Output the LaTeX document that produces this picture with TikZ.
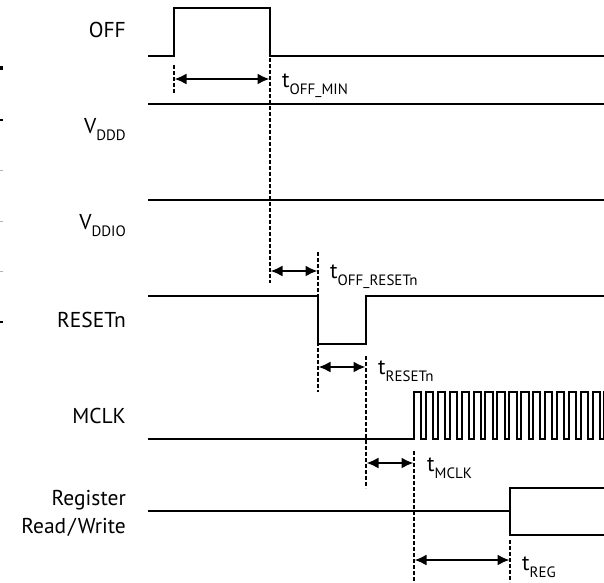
\documentclass[tikz,border=0pt]{standalone}
\usepackage{fontspec}
\setmainfont{PT Sans}
\usetikzlibrary{arrows.meta}
\begin{document}
\begin{tikzpicture}[x=1pt,y=-1pt,
  sig/.style={line width=2pt, line join=miter},
  guide/.style={line width=1.4pt, dash pattern=on 4pt off 2pt},
  meas/.style={line width=2pt, {Latex[length=12pt,width=11pt]}-{Latex[length=12pt,width=11pt]}, shorten <=0.5pt, shorten >=0.5pt},
  lbl/.style={anchor=base east, inner sep=0pt, font=\fontsize{21.5}{24}\selectfont},
  tlbl/.style={anchor=base west, inner sep=0pt, font=\fontsize{22}{24}\selectfont},
  tick/.style={line width=2pt}]
\useasboundingbox (0,0) rectangle (604,582);

% left edge ticks
\draw[line width=4pt] (0,68) -- (3,68);
\draw[tick] (0,120) -- (3,120);
\draw[gray!60, line width=1pt] (0,170) -- (3,170);
\draw[gray!60, line width=1pt] (0,221) -- (3,221);
\draw[gray!60, line width=1pt] (0,271) -- (3,271);
\draw[line width=1.5pt] (0,322) -- (3,322);

\newcommand{\tsub}[1]{\raisebox{-7pt}{\fontsize{15}{16}\selectfont #1}}

% signal labels
\node[lbl] (lOFF) at (126,37) {OFF};
\node[lbl] (lVDDD) at (126,133) {V\tsub{DDD}};
\node[lbl] (lVDDIO) at (126,229) {V\tsub{DDIO}};
\node[lbl] (lRST) at (126,327) {RESETn};
\node[lbl] (lMCLK) at (126,423) {MCLK};
\node[lbl] (lREG) at (126,505) {Register};
\node[lbl] (lRW) at (126,533) {Read\kern2pt/\kern2pt Write};

% key coordinates
\coordinate (a1) at (174,79);
\coordinate (a2) at (270,79);
\coordinate (b1) at (270,271);
\coordinate (b2) at (318,271);
\coordinate (c1) at (318,367);
\coordinate (c2) at (366,367);
\coordinate (d1) at (366,463);
\coordinate (d2) at (414,463);
\coordinate (e1) at (414,560);
\coordinate (e2) at (510,560);

% guide (dashed) lines
\draw[guide] (174,65) -- (174,93);
\draw[guide] (270,58) -- (270,283);
\draw[guide] (318,252) -- (318,392);
\draw[guide] (366,356) -- (366,488);
\draw[guide] (414,451) -- (414,582);
\draw[guide] (510,540) -- (510,582);

% signals
\draw[sig] (148,56) -- (174,56) -- (174,8) -- (270,8) -- (270,56) -- (604,56);
\draw[sig] (148,104) -- (604,104);
\draw[sig] (148,200) -- (604,200);
\draw[sig] (148,296) -- (318,296) -- (318,344) -- (366,344) -- (366,296) -- (604,296);
\begin{scope}
\clip (140,380) rectangle (604,450);
\draw[sig] (148,439) -- (414,439)
  \foreach \i in {0,...,16} { -- ({414+11.9*\i},392) -- ({414+11.9*\i+7.4},392) -- ({414+11.9*\i+7.4},439) -- ({414+11.9*\i+11.9},439) };
\end{scope}
\draw[sig] (148,511) -- (510,511);
\draw[sig] (604,488) -- (510,488) -- (510,535) -- (604,535);

% measurement arrows
\draw[meas] (a1) -- (a2);
\draw[meas] (b1) -- (b2);
\draw[meas] (c1) -- (c2);
\draw[meas] (d1) -- (d2);
\draw[meas] (e1) -- (e2);

% timing labels
\node[tlbl] (tOFFMIN) at (282,87) {t\tsub{OFF\_MIN}};
\node[tlbl] (tOFFRST) at (330,278) {t\tsub{OFF\_RESETn}};
\node[tlbl] (tRST) at (378,374) {t\tsub{RESETn}};
\node[tlbl] (tMCLK) at (427,471) {t\tsub{MCLK}};
\node[tlbl] (tREG) at (522,570) {t\tsub{REG}};
\end{tikzpicture}
\end{document}
